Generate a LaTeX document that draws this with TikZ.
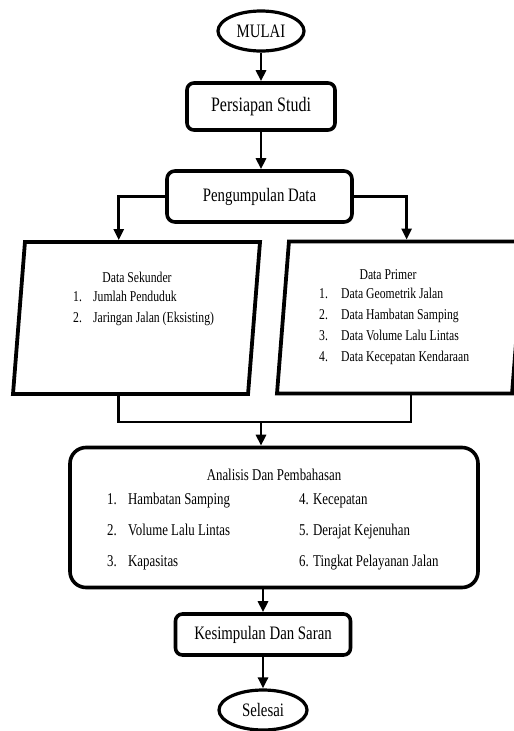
\documentclass[tikz,border=0pt]{standalone}
\usepackage{fontspec}
\setmainfont{Liberation Serif}[FakeStretch=0.78]
\usetikzlibrary{shapes.geometric,arrows.meta,calc,shadows}

\tikzset{
  bayang/.style={drop shadow={shadow xshift=1.5pt,shadow yshift=-1.5pt,opacity=.3}},
  terminal/.style={ellipse, draw, fill=white, line width=3.2pt, minimum width=86pt, minimum height=40pt, inner sep=0pt, font=\fontsize{19}{22}\selectfont, bayang},
  proses/.style={rectangle, rounded corners=7pt, draw, fill=white, line width=3.6pt, inner sep=0pt, font=\fontsize{19}{22}\selectfont, bayang},
  data/.style={trapezium, trapezium left angle=85.5, trapezium right angle=94.5, trapezium stretches body=true, draw, fill=white, line width=3.8pt, minimum width=247pt, inner xsep=6pt, inner ysep=6pt, bayang},
  garis/.style={line width=2.7pt},
  panah/.style={garis, -{Triangle[length=11pt,width=10pt]}},
  isi/.style={font=\fontsize{15}{21}\selectfont, inner sep=0pt},
  isibesar/.style={font=\fontsize{16.5}{31}\selectfont, inner sep=0pt},
}

\begin{document}
\begin{tikzpicture}[x=1pt,y=-1pt]
    \useasboundingbox[fill=white] (0,0) rectangle (514,731);

    % alur utama
    \node[terminal] (mulai) at (261,31) {MULAI};
    \node[proses, minimum width=148pt, minimum height=47pt, font=\fontsize{20.5}{22}\selectfont] (siap) at (261,106.5) {Persiapan Studi};
    \node[proses, rounded corners=8pt, minimum width=185pt, minimum height=51pt] (kumpul) at (259.5,196.5) {Pengumpulan Data};

    % data sekunder dan primer
    \node[data] (sek) at (136.5,318) {\rule{0pt}{140pt}};
    \node[data] (prim) at (400.5,317.5) {\rule{0pt}{140pt}};
    \node[isi] (judulsek) at (137,277) {Data Sekunder};
    \node[isi, anchor=west] (isisek) at (73,307.5) {%
        \begin{tabular}{@{}p{20pt}@{}l@{}}
        1. & Jumlah Penduduk\\
        2. & Jaringan Jalan (Eksisting)
        \end{tabular}};
    \node[isi] (judulprim) at (388,275) {Data Primer};
    \node[isi, anchor=west] (isiprim) at (319,325.5) {%
        \begin{tabular}{@{}p{22pt}@{}l@{}}
        1. & Data Geometrik Jalan\\
        2. & Data Hambatan Samping\\
        3. & Data Volume Lalu Lintas\\
        4. & Data Kecepatan Kendaraan
        \end{tabular}};

    % analisis
    \node[proses, rounded corners=16pt, minimum width=408pt, minimum height=140pt] (analisis) at (274,517.5) {};
    \node[isibesar] (judulanalisis) at (274,475) {Analisis Dan Pembahasan};
    \node[isibesar, anchor=west] (isianalisis) at (107,529) {%
        \begin{tabular}{@{}p{21pt}@{}p{171pt}@{}l@{}}
        1. & Hambatan Samping & 4. Kecepatan\\
        2. & Volume Lalu Lintas & 5. Derajat Kejenuhan\\
        3. & Kapasitas & 6. Tingkat Pelayanan Jalan
        \end{tabular}};

    \node[proses, minimum width=175pt, minimum height=41pt] (simpul) at (263,634.5) {Kesimpulan Dan Saran};
    \node[terminal, minimum width=88pt] (selesai) at (263,710) {Selesai};

    % penghubung
    \coordinate (sekatas) at ($(sek.top left corner)!.4!(sek.top right corner)$);
    \coordinate (primatas) at ($(prim.top left corner)!.5!(prim.top right corner)$);
    \coordinate (sekbawah) at ($(sek.bottom left corner)!.45!(sek.bottom right corner)$);
    \coordinate (primbawah) at ($(prim.bottom left corner)!.57!(prim.bottom right corner)$);
    \coordinate (gabung) at (261,422);

    \draw[panah] (mulai) -- (siap);
    \draw[panah] (siap.south) -- (siap.south |- kumpul.north);
    \draw[panah] (kumpul.west) -| (sekatas);
    \draw[panah] (kumpul.east) -| (primatas);
    \draw[garis] (sekbawah) |- (gabung) -| (primbawah);
    \draw[panah] (gabung) -- (gabung |- analisis.north);
    \draw[panah] (simpul.north |- analisis.south) -- (simpul.north);
    \draw[panah] (simpul) -- (selesai);
\end{tikzpicture}
\end{document}
